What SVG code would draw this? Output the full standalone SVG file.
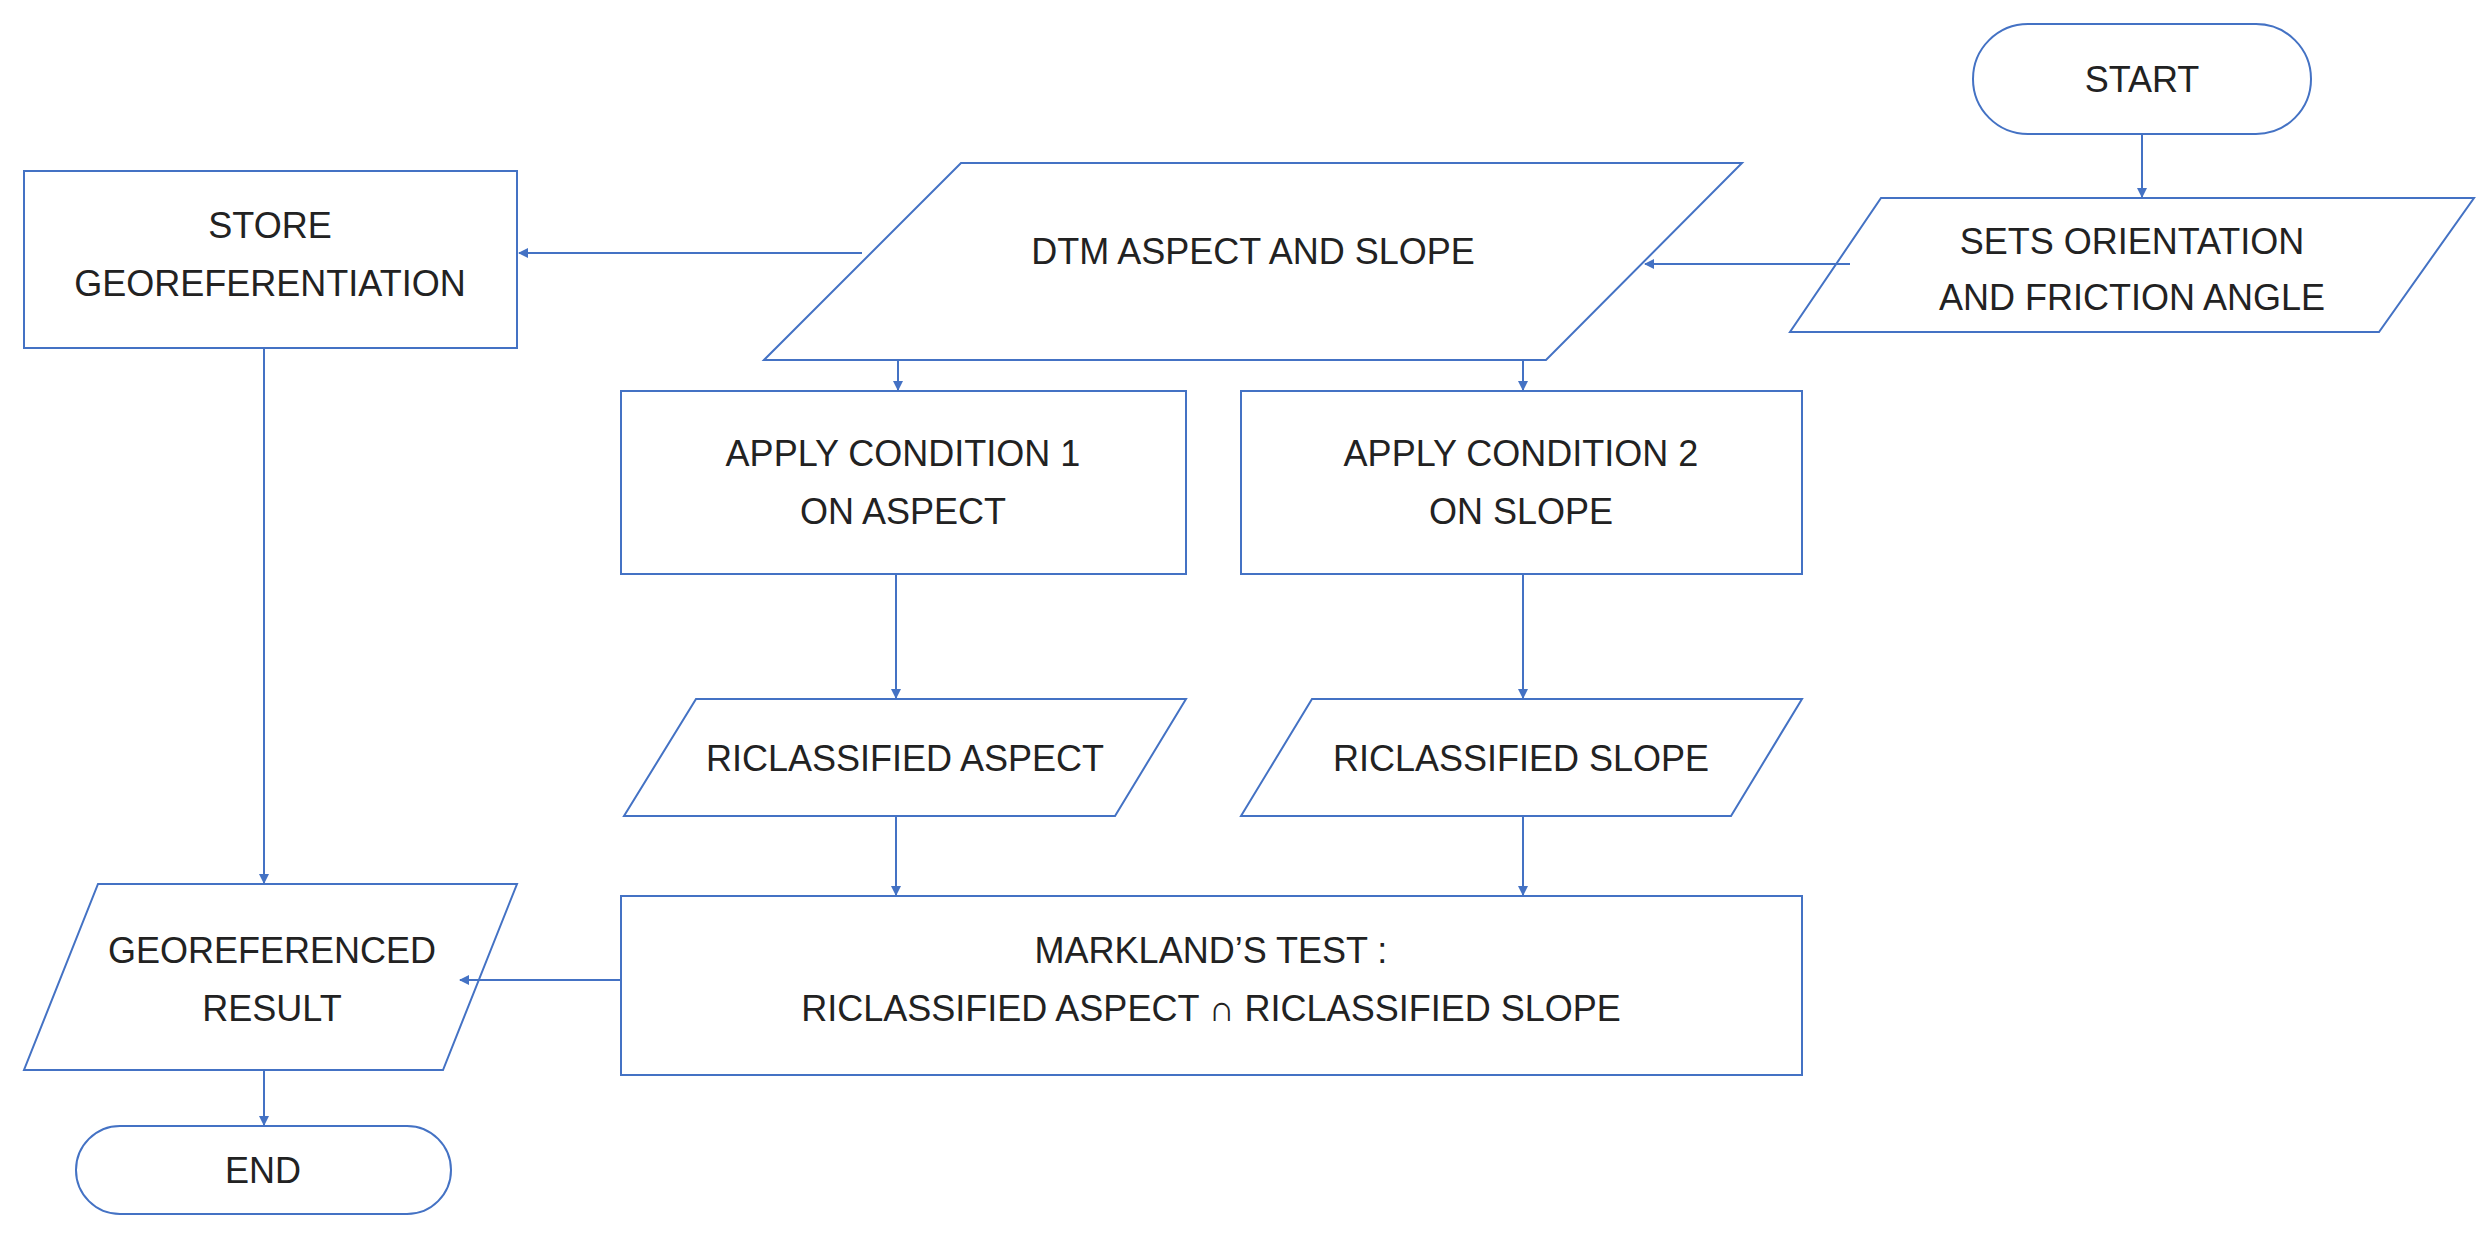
<svg xmlns="http://www.w3.org/2000/svg" width="2479" height="1257" viewBox="0 0 2479 1257">
<style>
.n{fill:#fff;stroke:#4472c4;stroke-width:2}
.t{font-family:"Liberation Sans",Arial,sans-serif;font-size:36px;fill:#222;text-anchor:middle}
.c{stroke:#4472c4;stroke-width:2;fill:none;marker-end:url(#a)}
</style>
<defs><marker id="a" markerWidth="10" markerHeight="10" refX="9" refY="5" orient="auto" markerUnits="userSpaceOnUse"><path d="M0,0L10,5L0,10z" fill="#4472c4"/></marker></defs>
<rect width="2479" height="1257" fill="#fff"/>
<g id="start"><rect class="n" x="1973" y="24" width="338" height="110" rx="55"/><text class="t" x="2142" y="92">START</text></g>
<g id="sets"><polygon class="n" points="1881,198 2474,198 2379,332 1790,332"/><text class="t" x="2132" y="254">SETS ORIENTATION</text><text class="t" x="2132" y="310">AND FRICTION ANGLE</text></g>
<g id="dtm"><polygon class="n" points="961,163 1742,163 1546,360 764,360"/><text class="t" x="1253" y="264">DTM ASPECT AND SLOPE</text></g>
<g id="store"><rect class="n" x="24" y="171" width="493" height="177"/><text class="t" x="270" y="238">STORE</text><text class="t" x="270" y="296">GEOREFERENTIATION</text></g>
<g id="apply1"><rect class="n" x="621" y="391" width="565" height="183"/><text class="t" x="903" y="466">APPLY CONDITION 1</text><text class="t" x="903" y="524">ON ASPECT</text></g>
<g id="apply2"><rect class="n" x="1241" y="391" width="561" height="183"/><text class="t" x="1521" y="466">APPLY CONDITION 2</text><text class="t" x="1521" y="524">ON SLOPE</text></g>
<g id="ra"><polygon class="n" points="696,699 1186,699 1115,816 624,816"/><text class="t" x="905" y="771">RICLASSIFIED ASPECT</text></g>
<g id="rs"><polygon class="n" points="1312,699 1802,699 1731,816 1241,816"/><text class="t" x="1521" y="771">RICLASSIFIED SLOPE</text></g>
<g id="mark"><rect class="n" x="621" y="896" width="1181" height="179"/><text class="t" x="1211" y="963">MARKLAND’S TEST :</text><text class="t" x="1211" y="1021">RICLASSIFIED ASPECT  ∩  RICLASSIFIED SLOPE</text></g>
<g id="geo"><polygon class="n" points="98,884 517,884 443,1070 24,1070"/><text class="t" x="272" y="963">GEOREFERENCED</text><text class="t" x="272" y="1021">RESULT</text></g>
<g id="end"><rect class="n" x="76" y="1126" width="375" height="88" rx="44"/><text class="t" x="263" y="1183">END</text></g>
<g id="connectors">
<line class="c" x1="2142" y1="134" x2="2142" y2="197"/>
<line class="c" x1="1850" y1="264" x2="1645" y2="264"/>
<line class="c" x1="862" y1="253" x2="519" y2="253"/>
<line class="c" x1="898" y1="360" x2="898" y2="390"/>
<line class="c" x1="1523" y1="360" x2="1523" y2="390"/>
<line class="c" x1="896" y1="574" x2="896" y2="698"/>
<line class="c" x1="1523" y1="574" x2="1523" y2="698"/>
<line class="c" x1="896" y1="816" x2="896" y2="895"/>
<line class="c" x1="1523" y1="816" x2="1523" y2="895"/>
<line class="c" x1="264" y1="348" x2="264" y2="883"/>
<line class="c" x1="621" y1="980" x2="460" y2="980"/>
<line class="c" x1="264" y1="1070" x2="264" y2="1125"/>
</g>
</svg>
